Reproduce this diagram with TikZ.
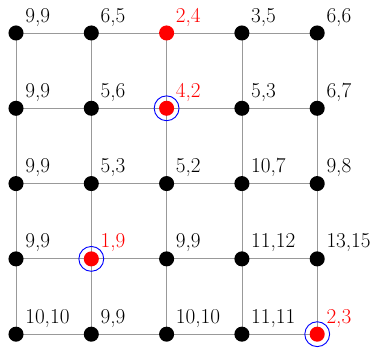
\documentclass[tikz,border=0pt]{standalone}
\usepackage{tikz}
\usetikzlibrary{backgrounds}

\begin{document}
\begin{tikzpicture}[
    dot/.style={circle, fill=#1, inner sep=0pt, minimum size=0.4cm},
    ring/.style={circle, draw=blue, line width=0.7pt, inner sep=0pt, minimum size=0.66cm},
    lab/.style={anchor=base west, inner sep=0pt, font=\fontsize{16}{18}\selectfont},
    grid/.style={draw=black!40, line width=0.6pt}
]
\useasboundingbox (-0.425,-0.473) rectangle (9.535,8.876);

% Nodes with their values
\foreach \x/\y/\v/\c in {
    0/4/{9,9}/black, 1/4/{6,5}/black, 2/4/{2,4}/red, 3/4/{3,5}/black, 4/4/{6,6}/black,
    0/3/{9,9}/black, 1/3/{5,6}/black, 2/3/{4,2}/red, 3/3/{5,3}/black, 4/3/{6,7}/black,
    0/2/{9,9}/black, 1/2/{5,3}/black, 2/2/{5,2}/black, 3/2/{10,7}/black, 4/2/{9,8}/black,
    0/1/{9,9}/black, 1/1/{1,9}/red, 2/1/{9,9}/black, 3/1/{11,12}/black, 4/1/{13,15}/black,
    0/0/{10,10}/black, 1/0/{9,9}/black, 2/0/{10,10}/black, 3/0/{11,11}/black, 4/0/{2,3}/red}
{
    \node[dot=\c] (n\x\y) at (2*\x,2*\y) {};
    \node[lab, text=\c] (l\x\y) at ([shift={(0.24,0.29)}]n\x\y.center) {\v};
}

% Grid lines behind the nodes
\begin{scope}[on background layer]
\foreach \a in {0,...,4} {
    \draw[grid] (n\a0.center) -- (n\a4.center);
    \draw[grid] (n0\a.center) -- (n4\a.center);
}
\end{scope}

% Circled nodes
\node[ring] (r23) at (n23) {};
\node[ring] (r11) at (n11) {};
\node[ring] (r40) at (n40) {};
\end{tikzpicture}
\end{document}
